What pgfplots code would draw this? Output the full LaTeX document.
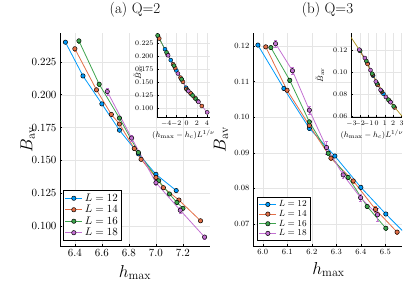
\documentclass[border=0pt]{standalone}
\usepackage{pgfplots}
\pgfplotsset{compat=1.18}
\definecolor{c1}{HTML}{009AFA}
\definecolor{c2}{HTML}{E36F47}
\definecolor{c3}{HTML}{3EA44E}
\definecolor{c4}{HTML}{C371D2}
\definecolor{c5}{HTML}{AC8E18}
\newcommand{\fs}[1]{\fontsize{#1}{#1}\selectfont}
\pgfplotsset{
 julia/.style={
  scale only axis,
  axis lines*=left,
  axis line style={-, line width=0.8pt},
  grid=major,
  grid style={black!10, line width=0.4pt},
  tick align=inside,
  major tick length=2pt,
  tick style={black, line width=0.5pt},
  scaled ticks=false,
 },
 s1/.style={c1, line width=0.8pt, mark=*, mark size=2.2pt, mark options={draw=black, fill=c1, line width=0.5pt},
   error bars/.cd, y dir=both, y explicit, error bar style={c1, line width=0.5pt}, error mark options={rotate=90, mark size=1.3pt, draw=c1}},
 s2/.style={c2, line width=0.8pt, mark=*, mark size=2.2pt, mark options={draw=black, fill=c2, line width=0.5pt},
   error bars/.cd, y dir=both, y explicit, error bar style={c2, line width=0.5pt}, error mark options={rotate=90, mark size=1.3pt, draw=c2}},
 s3/.style={c3, line width=0.8pt, mark=*, mark size=2.2pt, mark options={draw=black, fill=c3, line width=0.5pt},
   error bars/.cd, y dir=both, y explicit, error bar style={c3, line width=0.5pt}, error mark options={rotate=90, mark size=1.3pt, draw=c3}},
 s4/.style={c4, line width=0.8pt, mark=*, mark size=2.2pt, mark options={draw=black, fill=c4, line width=0.5pt},
   error bars/.cd, y dir=both, y explicit, error bar style={c4, line width=0.5pt}, error mark options={rotate=90, mark size=1.3pt, draw=c4}},
 i1/.style={c1, line width=0.6pt, mark=*, mark size=2pt, mark options={draw=black, fill=c1, line width=0.4pt}},
 i2/.style={c2, line width=0.6pt, mark=*, mark size=2pt, mark options={draw=black, fill=c2, line width=0.4pt}},
 i3/.style={c3, line width=0.6pt, mark=*, mark size=2pt, mark options={draw=black, fill=c3, line width=0.4pt}},
 i4/.style={c4, line width=0.6pt, mark=*, mark size=2pt, mark options={draw=black, fill=c4, line width=0.4pt}},
}
\begin{document}
\begin{tikzpicture}
\useasboundingbox (0,0) rectangle (415pt,286pt);
% ================= (a) Q=2 main =================
\begin{axis}[julia, at={(60pt,40pt)}, anchor=south west, width=150pt, height=213pt,
  xmin=6.29, xmax=7.40, ymin=0.0848, ymax=0.247,
  xtick={6.4,6.6,6.8,7.0,7.2}, ytick={0.100,0.125,0.150,0.175,0.200,0.225},
  x tick label style={/pgf/number format/.cd, fixed, fixed zerofill, precision=1, /tikz/.cd},
  y tick label style={/pgf/number format/.cd, fixed, fixed zerofill, precision=3, /tikz/.cd},
  tick label style={font=\fs{11}},
  title={(a) Q=2}, title style={font=\fs{15}, at={(axis description cs:0.5,1.08)}, anchor=center},
  xlabel={$h_{\max}$}, xlabel style={font=\fs{17}, at={(axis description cs:0.5,-0.125)}, anchor=center},
  ylabel={$B_{\mathrm{av}}$}, ylabel style={font=\fs{17}, at={(axis description cs:-0.215,0.5)}, anchor=center},
  legend style={at={(axis description cs:0.02,0.023)}, anchor=south west, draw=black, line width=0.8pt,
    font=\fs{10.5}, inner sep=1.5pt, row sep=-1.5pt, fill=white},
  legend cell align=left,
]
\addplot[s1] coordinates {(6.33,0.2400)+-(0,0.0008) (6.46,0.2143)+-(0,0.0008) (6.60,0.1930)+-(0,0.0008) (6.73,0.1730)+-(0,0.0008) (6.87,0.1550)+-(0,0.0008) (7.00,0.1394)+-(0,0.0008) (7.15,0.1270)+-(0,0.0008)};
\addplot[s2] coordinates {(6.40,0.2350)+-(0,0.0015) (6.56,0.2037)+-(0,0.0012) (6.67,0.1850)+-(0,0.001) (6.73,0.1777)+-(0,0.001) (6.84,0.1590)+-(0,0.001) (6.89,0.1508)+-(0,0.001) (7.00,0.1370)+-(0,0.001) (7.055,0.1292)+-(0,0.001) (7.17,0.1198)+-(0,0.001) (7.33,0.1040)+-(0,0.001)};
\addplot[s3] coordinates {(6.43,0.2410)+-(0,0.0015) (6.58,0.2080)+-(0,0.0012) (6.73,0.1822)+-(0,0.001) (6.87,0.1560)+-(0,0.001) (7.02,0.1345)+-(0,0.001) (7.10,0.1244)+-(0,0.001) (7.155,0.1180)+-(0,0.001) (7.20,0.1135)+-(0,0.001)};
\addplot[s4] coordinates {(6.64,0.2024)+-(0,0.0028) (6.82,0.1670)+-(0,0.0022) (7.00,0.1330)+-(0,0.002) (7.18,0.1120)+-(0,0.002) (7.36,0.0916)+-(0,0.0015)};
\legend{$L=12$,$L=14$,$L=16$,$L=18$}
\end{axis}
% ================= (a) inset =================
\begin{axis}[julia, at={(157pt,169pt)}, anchor=south west, width=53pt, height=84pt,
  axis background/.style={fill=white},
  xmin=-5.8, xmax=4.6, ymin=0.0826, ymax=0.2457,
  xtick={-4,-2,0,2,4}, ytick={0.100,0.125,0.150,0.175,0.200,0.225},
  y tick label style={/pgf/number format/.cd, fixed, fixed zerofill, precision=3, /tikz/.cd},
  tick label style={font=\fs{7}}, major tick length=1.5pt,
  xlabel={$(h_{\max}-h_c)L^{1/\nu}$}, xlabel style={font=\fs{8.5}, at={(axis description cs:0.5,-0.214)}, anchor=center},
  ylabel={$\tilde{B}_{\mathrm{av}}$}, ylabel style={font=\fs{8.5}, at={(axis description cs:-0.36,0.536)}, anchor=center},
]
\addplot[i1] coordinates {(-5.60,0.2400) (-4.23,0.2143) (-3.10,0.1930) (-2.01,0.1730) (-0.95,0.1550) (-0.09,0.1394) (0.94,0.1270)};
\addplot[i2] coordinates {(-5.36,0.2350) (-3.72,0.2037) (-2.63,0.1850) (-2.24,0.1777) (-1.18,0.1590) (-0.70,0.1508) (-0.04,0.1370) (0.75,0.1292) (1.62,0.1198) (3.00,0.1040)};
\addplot[i3] coordinates {(-5.68,0.2410) (-3.93,0.2080) (-2.47,0.1822) (-0.97,0.1560) (0.21,0.1345) (1.19,0.1244) (1.81,0.1180) (2.21,0.1135)};
\addplot[i4] coordinates {(-3.62,0.2024) (-1.70,0.1670) (0.35,0.1330) (2.33,0.1120) (4.05,0.0916)};
\end{axis}
% ================= (b) Q=3 main =================
\begin{axis}[julia, at={(253pt,40pt)}, anchor=south west, width=149pt, height=213pt,
  xmin=5.96, xmax=6.568, ymin=0.0638, ymax=0.1237,
  xtick={6.0,6.1,6.2,6.3,6.4,6.5}, ytick={0.07,0.08,0.09,0.10,0.11,0.12},
  x tick label style={/pgf/number format/.cd, fixed, fixed zerofill, precision=1, /tikz/.cd},
  y tick label style={/pgf/number format/.cd, fixed, fixed zerofill, precision=2, /tikz/.cd},
  tick label style={font=\fs{8.5}},
  title={(b) Q=3}, title style={font=\fs{15}, at={(axis description cs:0.5,1.08)}, anchor=center},
  xlabel={$h_{\max}$}, xlabel style={font=\fs{17}, at={(axis description cs:0.507,-0.11)}, anchor=center},
  ylabel={$B_{\mathrm{av}}$}, ylabel style={font=\fs{17}, at={(axis description cs:-0.215,0.5)}, anchor=center},
  legend style={at={(axis description cs:0.027,0.023)}, anchor=south west, draw=black, line width=0.8pt,
    font=\fs{9.5}, inner sep=1.5pt, row sep=-2pt, fill=white},
  legend cell align=left,
]
\addplot[s1] coordinates {(5.98,0.1203)+-(0,0.0004) (6.086,0.1081)+-(0,0.0004) (6.19,0.0969)+-(0,0.0004) (6.294,0.0891)+-(0,0.0004) (6.40,0.0803)+-(0,0.0004) (6.502,0.0728)+-(0,0.0004) (6.60,0.0660)+-(0,0.0004)};
\addplot[s2] coordinates {(6.012,0.1198)+-(0,0.0005) (6.099,0.1076)+-(0,0.0005) (6.19,0.0977)+-(0,0.0005) (6.278,0.0885)+-(0,0.0005) (6.369,0.0821)+-(0,0.0005) (6.46,0.0741)+-(0,0.0008) (6.548,0.0677)+-(0,0.0005)};
\addplot[s3] coordinates {(6.033,0.1196)+-(0,0.0005) (6.11,0.1104)+-(0,0.0005) (6.19,0.0987)+-(0,0.0005) (6.267,0.0899)+-(0,0.0005) (6.348,0.0831)+-(0,0.0005) (6.426,0.0749)+-(0,0.0005) (6.502,0.0688)+-(0,0.0005)};
\addplot[s4] coordinates {(6.052,0.1207)+-(0,0.0010) (6.121,0.1131)+-(0,0.0010) (6.19,0.1020)+-(0,0.0010) (6.26,0.0915)+-(0,0.0018) (6.328,0.0838)+-(0,0.0010) (6.399,0.0774)+-(0,0.0010) (6.468,0.0726)+-(0,0.0018)};
\legend{$L=12$,$L=14$,$L=16$,$L=18$}
\end{axis}
% ================= (b) inset =================
\begin{axis}[julia, at={(351pt,169pt)}, anchor=south west, width=51pt, height=84pt,
  axis background/.style={fill=white},
  xmin=-3.05, xmax=3.05, ymin=0.059, ymax=0.136,
  xtick={-3,-2,-1,0,1,2,3}, ytick={0.06,0.08,0.10,0.12},
  y tick label style={/pgf/number format/.cd, fixed, fixed zerofill, precision=2, /tikz/.cd},
  tick label style={font=\fs{7}}, major tick length=1.5pt,
  xlabel={$(h_{\max}-h_c)L^{1/\nu}$}, xlabel style={font=\fs{8.5}, at={(axis description cs:0.41,-0.214)}, anchor=center},
  ylabel={$\tilde{B}_{\mathrm{av}}$}, ylabel style={font=\fs{8.5}, at={(axis description cs:-0.61,0.5)}, anchor=center},
]
\addplot[i1] coordinates {(-2.02,0.1203) (-1.08,0.1081) (-0.41,0.0969) (0.09,0.0891) (0.83,0.0803) (1.66,0.0728)};
\addplot[i2] coordinates {(-1.98,0.1198) (-1.06,0.1076) (-0.46,0.0977) (0.14,0.0885) (0.65,0.0821) (1.52,0.0741) (2.16,0.0677)};
\addplot[i3] coordinates {(-1.96,0.1196) (-1.22,0.1104) (-0.52,0.0987) (0.05,0.0899) (0.56,0.0831) (1.42,0.0749) (2.05,0.0688)};
\addplot[i4] coordinates {(-2.06,0.1207) (-1.39,0.1131) (-0.72,0.1020) (-0.08,0.0915) (0.49,0.0838) (1.12,0.0774) (1.68,0.0726)};
\addplot[c5, line width=0.7pt, no marks] coordinates {(-3.05,0.1320) (-2,0.1200) (-1,0.1060) (0,0.0915) (1,0.0795) (2,0.0695) (3.05,0.0598)};
\end{axis}
\end{tikzpicture}
\end{document}
